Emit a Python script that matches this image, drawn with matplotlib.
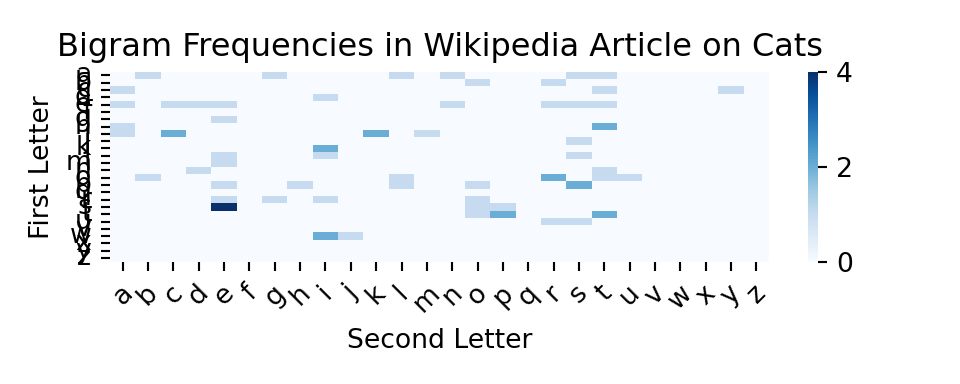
import string
import numpy as np
import pandas as pd
import matplotlib
matplotlib.use("Agg")
import matplotlib.pyplot as plt
import seaborn as sns

letters = list(string.ascii_lowercase)

# bigram counts: first letter -> {second letter: count}
counts = {
    'a': {'b': 1, 'g': 1, 'l': 1, 'n': 1, 's': 1, 't': 1},
    'b': {'o': 1, 'r': 1},
    'c': {'a': 1, 't': 1, 'y': 1},
    'd': {'i': 1},
    'e': {'a': 1, 'c': 1, 'd': 1, 'e': 1, 'n': 1, 'r': 1, 's': 1, 't': 1},
    'g': {'e': 1},
    'h': {'a': 1, 't': 2},
    'i': {'a': 1, 'c': 2, 'k': 2, 'm': 1},
    'j': {'s': 1},
    'k': {'i': 2},
    'l': {'e': 1, 'i': 1, 's': 1},
    'm': {'e': 1},
    'n': {'d': 1, 't': 1},
    'o': {'b': 1, 'l': 1, 'r': 2, 't': 1, 'u': 1},
    'p': {'e': 1, 'h': 1, 'l': 1, 'o': 1, 's': 2},
    'r': {'e': 1, 'g': 1, 'i': 1, 'o': 1},
    's': {'e': 4, 'o': 1, 'p': 1},
    't': {'o': 1, 'p': 2, 't': 2},
    'u': {'r': 1, 's': 1},
    'w': {'i': 2, 'j': 1},
}

mat = pd.DataFrame(0, index=letters, columns=letters)
for first, row in counts.items():
    for second, n in row.items():
        mat.loc[first, second] = n

fig = plt.figure(figsize=(5, 2), dpi=192)
ax = fig.add_axes([0.1146, 0.3185, 0.6865, 0.4948])
cax = fig.add_axes([0.8417, 0.3185, 0.0099, 0.4948])

sns.heatmap(mat, cmap='Blues', ax=ax, cbar_ax=cax, vmin=0, vmax=4,
            xticklabels=letters, yticklabels=letters,
            cbar_kws={'ticks': [0, 2, 4]})
ax.set_title('Bigram Frequencies in Wikipedia Article on Cats', fontsize=12)
ax.set_xlabel('Second Letter')
ax.set_ylabel('First Letter')
plt.setp(ax.get_xticklabels(), rotation=45)

fig.savefig('out.png')
